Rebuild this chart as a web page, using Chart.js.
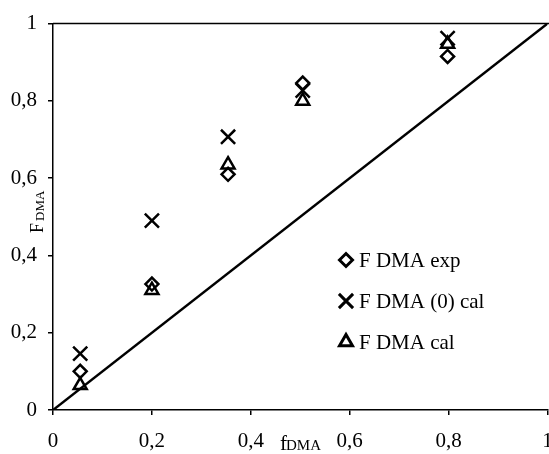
<!DOCTYPE html>
<html>
<head>
<meta charset="utf-8">
<script src="https://cdn.jsdelivr.net/npm/chart.js@4.4.0/dist/chart.umd.min.js"></script>
<style>
  html, body { margin: 0; padding: 0; background: #fff; overflow: hidden; }
  #wrap { width: 549px; height: 454px; overflow: hidden; }
</style>
</head>
<body>
<div id="wrap"><canvas id="chart" width="560" height="454"></canvas></div>
<script>
// f_DMA (feed composition) and measured / calculated F_DMA (copolymer composition)
const fDMA = [0.055, 0.2, 0.354, 0.505, 0.798];
const fExp = [0.10, 0.326, 0.61, 0.846, 0.915];
const fCal0 = [0.146, 0.49, 0.707, 0.827, 0.962];
const fCal = [0.064, 0.31, 0.635, 0.80, 0.947];
const diagX = [0, 1];
const diagY = [0, 1];
const seriesLabels = ['F DMA exp', 'F DMA (0) cal', 'F DMA cal'];

const serif = "'Liberation Serif', 'DejaVu Serif', serif";
Chart.defaults.font.family = serif;
Chart.defaults.color = '#000';

function pts(xs, ys) {
    return xs.map((x, i) => ({ x: x, y: ys[i] }));
}

function commaTick(v) {
    return String(Math.round(v * 10) / 10).replace('.', ',');
}

// frame line, axis titles with subscripts and the legend
const decorations = {
    id: 'decorations',
    afterDraw(chart) {
        const ctx = chart.ctx;
        const area = chart.chartArea;
        ctx.save();

        // top border
        ctx.strokeStyle = '#000';
        ctx.lineWidth = 1.5;
        ctx.beginPath();
        ctx.moveTo(area.left, area.top);
        ctx.lineTo(area.right + 2, area.top);
        ctx.stroke();

        ctx.fillStyle = '#000';
        ctx.textBaseline = 'alphabetic';
        ctx.textAlign = 'left';

        // x title: f with subscript DMA
        ctx.font = '21px ' + serif;
        ctx.fillText('f', 280, 450);
        ctx.font = '15px ' + serif;
        ctx.fillText('DMA', 286, 450);

        // y title: F with subscript DMA, rotated
        ctx.save();
        ctx.translate(43, 233);
        ctx.rotate(-Math.PI / 2);
        ctx.font = '18px ' + serif;
        ctx.fillText('F', 0, 0);
        ctx.font = '13px ' + serif;
        ctx.fillText('DMA', 12, 1);
        ctx.restore();

        // legend
        ctx.font = '21px ' + serif;
        ctx.textBaseline = 'middle';
        const rows = [260, 301, 342];
        chart.data.datasets.slice(0, 3).forEach((ds, i) => {
            ctx.strokeStyle = '#000';
            ctx.fillStyle = 'rgba(0,0,0,0)';
            ctx.lineWidth = 3;
            Chart.helpers.drawPoint(ctx, {
                pointStyle: ds.pointStyle,
                radius: ds.pointRadius,
                borderWidth: 3
            }, 346, rows[i]);
            ctx.fillStyle = '#000';
            ctx.fillText(seriesLabels[i], 359, rows[i] + 1);
        });
        ctx.restore();
    }
};

const markerCommon = {
    type: 'scatter',
    borderColor: '#000',
    backgroundColor: 'rgba(0,0,0,0)',
    borderWidth: 2.5,
    pointBorderWidth: 2.5
};

new Chart(document.getElementById('chart'), {
    data: {
        datasets: [
            Object.assign({}, markerCommon, {
                label: seriesLabels[0],
                data: pts(fDMA, fExp),
                pointStyle: 'rectRot',
                pointRadius: 6.5
            }),
            Object.assign({}, markerCommon, {
                label: seriesLabels[1],
                data: pts(fDMA, fCal0),
                pointStyle: 'crossRot',
                pointRadius: 10
            }),
            Object.assign({}, markerCommon, {
                label: seriesLabels[2],
                data: pts(fDMA, fCal),
                pointStyle: 'triangle',
                pointRadius: 7.5
            }),
            {
                type: 'line',
                label: 'diagonal',
                data: pts(diagX, diagY),
                borderColor: '#000',
                borderWidth: 2.5,
                pointRadius: 0,
                fill: false
            }
        ]
    },
    options: {
        responsive: false,
        animation: false,
        layout: { padding: { top: 18, right: 0, left: 0, bottom: 0 } },
        plugins: {
            legend: { display: false },
            tooltip: { enabled: false }
        },
        scales: {
            x: {
                type: 'linear',
                min: 0,
                max: 1,
                ticks: {
                    stepSize: 0.2,
                    font: { size: 21, lineHeight: 2.55 },
                    color: '#000',
                    padding: 0,
                    maxRotation: 0,
                    callback: commaTick
                },
                grid: {
                    display: true,
                    drawOnChartArea: false,
                    tickLength: 5,
                    color: '#000',
                    lineWidth: 1.5
                },
                border: { color: '#000', width: 1.5 },
                afterFit(scale) {
                    scale.height = 44;
                    scale.paddingLeft = 0;
                    scale.paddingRight = 0;
                }
            },
            y: {
                type: 'linear',
                min: 0,
                max: 1,
                ticks: {
                    stepSize: 0.2,
                    font: { size: 21 },
                    color: '#000',
                    padding: 11,
                    callback: commaTick
                },
                grid: {
                    display: true,
                    drawOnChartArea: false,
                    tickLength: 5,
                    color: '#000',
                    lineWidth: 1.5
                },
                border: { color: '#000', width: 1.5 },
                afterFit(scale) {
                    scale.width = 53;
                }
            }
        }
    },
    plugins: [decorations]
});
</script>
</body>
</html>
